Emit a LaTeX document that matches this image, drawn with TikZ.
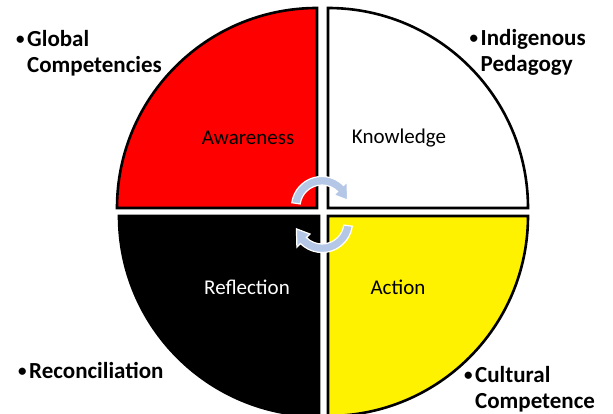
\documentclass[tikz,border=0pt]{standalone}
\usepackage{fontspec}
\setmainfont{Carlito}
\definecolor{arrowblue}{RGB}{180,199,231}
\newcommand{\mybul}{\llap{\raisebox{1.5pt}{\fontsize{17}{17}\selectfont•}\kern2.5pt}}
\begin{document}
\begin{tikzpicture}[x=1pt,y=1pt,
  quad/.style={draw=black,line width=2.6pt,line join=miter},
  qlabel/.style={font=\fontsize{21}{24}\selectfont,inner sep=0pt},
  blabel/.style={font=\bfseries\fontsize{23}{26.5}\selectfont,align=left,inner sep=0pt,anchor=base west},
  cyc/.style={fill=arrowblue,draw=white,line width=1.2pt,line join=miter}]
\useasboundingbox (0,0) rectangle (613,414);
\clip (0,0) rectangle (613,414);
% quadrants
\fill[white] (0,0) rectangle (613,414);
\draw[quad,fill=red] (317,206) -- (117,206) arc[start angle=180,end angle=90,radius=200] -- cycle;
\draw[quad,fill=white] (328,206) -- (328,406) arc[start angle=90,end angle=0,radius=200] -- cycle;
\draw[quad,fill=black] (319,198) -- (119,198) arc[start angle=180,end angle=270,radius=200] -- cycle;
\draw[quad,fill=yellow] (328,198) -- (528,198) arc[start angle=0,end angle=-90,radius=200] -- cycle;
% cycle arrows
\begin{scope}[shift={(322,207)}]
\draw[cyc] (172:30.5) arc[start angle=172,end angle=45,radius=30.5] -- (45:35.5) -- (15:26.5) -- (45:17) -- (45:22) arc[start angle=45,end angle=172,radius=22] -- cycle;
\end{scope}
\begin{scope}[shift={(322,192)}]
\draw[cyc] (-8:30.5) arc[start angle=-8,end angle=-135,radius=30.5] -- (225:35.5) -- (195:26.5) -- (225:17) -- (225:22) arc[start angle=-135,end angle=-8,radius=22] -- cycle;
\end{scope}
% quadrant labels
\node[qlabel] (aw) at (248,276) {Awareness};
\node[qlabel] (kn) at (399,276) {Knowledge};
\node[qlabel,text=white] (re) at (247,127) {Reflection};
\node[qlabel] (ac) at (398,127) {Action};
% bullet labels (base = last line)
\node[blabel] (gc) at (27,341) {\mybul Global\\Competencies};
\node[blabel] (ip) at (480.5,342.3) {\mybul Indigenous\\Pedagogy};
\node[blabel] (rc) at (29,35.7) {\mybul Reconciliation};
\node[blabel] (cc) at (475,5) {\mybul Cultural\\Competence};
\end{tikzpicture}
\end{document}
